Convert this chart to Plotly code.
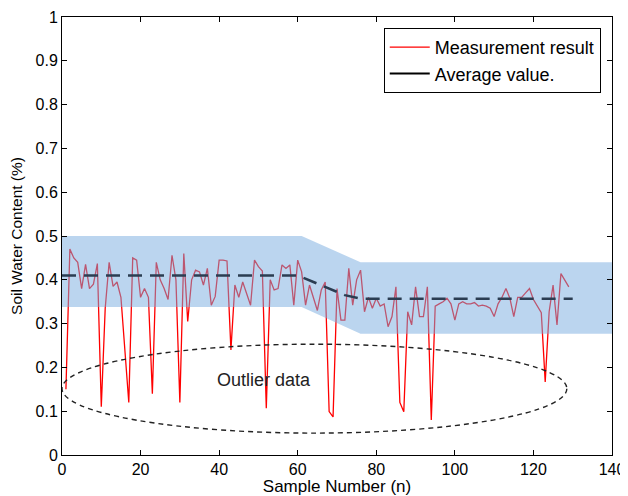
import plotly.graph_objects as go

# ---- data ----
sample_n = list(range(1, 130))
measurement = [
    0.15, 0.47, 0.45, 0.44, 0.38, 0.435, 0.38, 0.39, 0.437, 0.11,
    0.335, 0.44, 0.385, 0.395, 0.36, 0.25, 0.12, 0.45, 0.445, 0.36,
    0.38, 0.36, 0.14, 0.44, 0.40, 0.38, 0.355, 0.456, 0.40, 0.12,
    0.46, 0.305, 0.40, 0.422, 0.418, 0.388, 0.426, 0.342, 0.362, 0.445,
    0.445, 0.443, 0.24, 0.388, 0.36, 0.395, 0.37, 0.342, 0.445, 0.43,
    0.42, 0.107, 0.40, 0.377, 0.38, 0.434, 0.426, 0.434, 0.342, 0.445,
    0.418, 0.342, 0.388, 0.36, 0.33, 0.377, 0.395, 0.099, 0.087, 0.38,
    0.308, 0.308, 0.426, 0.342, 0.40, 0.422, 0.327, 0.36, 0.335, 0.358,
    0.34, 0.345, 0.293, 0.316, 0.384, 0.12, 0.099, 0.327, 0.297, 0.384,
    0.316, 0.316, 0.384, 0.08, 0.34, 0.345, 0.35, 0.358, 0.345, 0.308,
    0.345, 0.35, 0.345, 0.345, 0.348, 0.34, 0.342, 0.34, 0.335, 0.316,
    0.345, 0.36, 0.38, 0.358, 0.316, 0.36, 0.36, 0.37, 0.38, 0.355,
    0.34, 0.325, 0.167, 0.327, 0.388, 0.297, 0.414, 0.40, 0.384,
]

avg_x = [0, 60, 64, 68, 72, 76, 130]
avg_y = [0.41, 0.41, 0.395, 0.38, 0.365, 0.357, 0.357]

band_x = [0, 61, 76, 140]
band_upper = [0.50, 0.50, 0.44, 0.44]
band_lower = [0.338, 0.338, 0.277, 0.277]

outlier_x = [0, 128.5]
outlier_y = [0.05, 0.253]

x_ticks = [0, 20, 40, 60, 80, 100, 120, 140]
y_ticks = [0, 0.1, 0.2, 0.3, 0.4, 0.5, 0.6, 0.7, 0.8, 0.9, 1]
y_tick_labels = ["0", "0.1", "0.2", "0.3", "0.4", "0.5", "0.6", "0.7", "0.8", "0.9", "1"]

FONT = "Liberation Sans, Arial, sans-serif"

fig = go.Figure()

fig.add_trace(go.Scatter(
    x=sample_n, y=measurement, mode="lines",
    line=dict(color="#ff0000", width=1.3),
    name="Measurement result", showlegend=True,
))

# band drawn over the measurement line (semi-transparent)
fig.add_trace(go.Scatter(
    x=band_x + band_x[::-1], y=band_upper + band_lower[::-1],
    mode="lines", fill="toself", fillcolor="rgba(120,172,224,0.5)",
    line=dict(width=0), hoverinfo="skip", showlegend=False,
))

fig.add_trace(go.Scatter(
    x=avg_x, y=avg_y, mode="lines",
    line=dict(color="#2b3d52", width=2.5, dash="14px,8px"),
    showlegend=False,
))

# legend entry for average value (solid black)
fig.add_trace(go.Scatter(
    x=[None], y=[None], mode="lines",
    line=dict(color="black", width=2),
    name="Average value.", showlegend=True,
))

fig.add_shape(
    type="circle", xref="x", yref="y",
    x0=outlier_x[0], x1=outlier_x[1], y0=outlier_y[0], y1=outlier_y[1],
    line=dict(color="#222222", width=1.4, dash="5px,4px"),
)

fig.add_annotation(
    x=51.5, y=0.172, xref="x", yref="y", text="Outlier data",
    showarrow=False, font=dict(family=FONT, size=18, color="#222222"),
)

axis_common = dict(
    showline=True, linecolor="black", linewidth=1, mirror="ticks",
    ticks="inside", ticklen=5, tickcolor="black", showgrid=False,
    zeroline=False, tickfont=dict(family=FONT, size=16, color="black"),
    automargin=False,
)

fig.update_xaxes(
    range=[0, 140], tickvals=x_ticks,
    title=dict(text="Sample Number (n)", font=dict(family=FONT, size=17, color="black"), standoff=0),
    **axis_common,
)
fig.update_yaxes(
    range=[0, 1], tickvals=y_ticks, ticktext=y_tick_labels,
    title=dict(text="Soil Water Content (%)", font=dict(family=FONT, size=15.5, color="black"), standoff=10),
    **axis_common,
)

# page body has an 8px margin, so the figure is sized to end at the window edge
fig.update_layout(
    width=620, height=488,
    margin=dict(l=54, r=16, t=9, b=41),
    plot_bgcolor="white", paper_bgcolor="white",
    font=dict(family=FONT, size=15, color="black"),
    legend=dict(
        x=0.585, y=0.975, xanchor="left", yanchor="top",
        bgcolor="white", bordercolor="black", borderwidth=1,
        font=dict(family=FONT, size=18, color="black"),
        tracegroupgap=0, itemwidth=40,
    ),
)

fig.write_html("out.html")
